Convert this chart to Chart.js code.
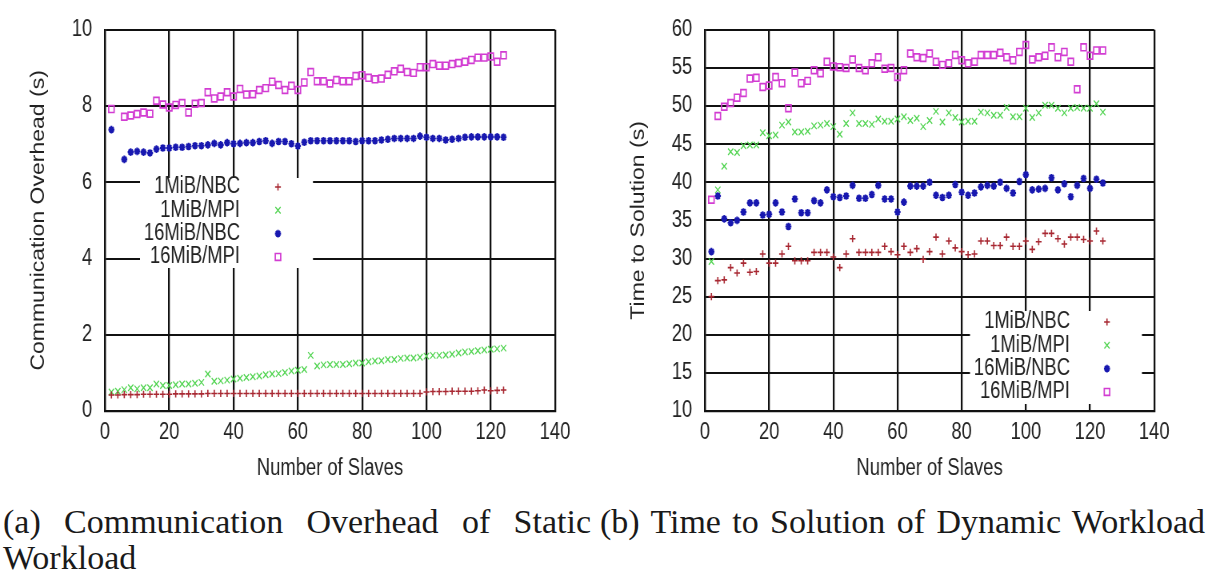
<!DOCTYPE html>
<html>
<head>
<meta charset="utf-8">
<title>Communication overhead / time to solution</title>
<script src="https://cdn.jsdelivr.net/npm/chart.js@4.4.1/dist/chart.umd.min.js"></script>
<style>
  html, body { margin: 0; padding: 0; background: #fff; }
  body { width: 1207px; height: 576px; position: relative; overflow: hidden; }
  /* the original figure is squeezed sideways: draw wide, then squeeze */
  .plot { position: absolute; top: 0; transform-origin: 0 0; transform: scaleX(0.8); }
  #cL { left: 0; }
  #cR { left: 600px; }
  .cap {
    position: absolute;
    font-family: "Liberation Serif", "DejaVu Serif", serif;
    font-size: 34px;
    line-height: 36px;
    color: #1a1a1a;
  }
  #capA1 { left: 3px; top: 504px; width: 588px; text-align: justify; text-align-last: justify; }
  #capA2 { left: 3px; top: 540px; }
  #capB  { left: 600px; top: 504px; width: 605px; text-align: justify; text-align-last: justify; }
</style>
</head>
<body>
<canvas id="cL" class="plot" width="750" height="485"></canvas>
<canvas id="cR" class="plot" width="759" height="485"></canvas>
<div id="capA1" class="cap">(a) Communication Overhead of Static</div>
<div id="capA2" class="cap">Workload</div>
<div id="capB" class="cap">(b) Time to Solution of Dynamic Workload</div>

<script>
// x positions (number of slaves)
const slaves = [2, 4, 6, 8, 10, 12, 14, 16, 18, 20, 22, 24, 26, 28, 30, 32, 34, 36, 38, 40,
  42, 44, 46, 48, 50, 52, 54, 56, 58, 60, 62, 64, 66, 68, 70, 72, 74, 76, 78, 80,
  82, 84, 86, 88, 90, 92, 94, 96, 98, 100, 102, 104, 106, 108, 110, 112, 114, 116, 118, 120,
  122, 124];

const seriesNames = ['1MiB/NBC', '1MiB/MPI', '16MiB/NBC', '16MiB/MPI'];

// (a) communication overhead of static workload, seconds
const ohNbc1 = [0.42, 0.42, 0.43, 0.43, 0.43, 0.44, 0.44, 0.44, 0.44, 0.44, 0.45, 0.45, 0.45, 0.45, 0.45,
  0.46, 0.46, 0.46, 0.46, 0.46, 0.46, 0.46, 0.46, 0.46, 0.46, 0.46, 0.46, 0.46, 0.46, 0.46, 0.46, 0.46,
  0.46, 0.46, 0.46, 0.46, 0.46, 0.46, 0.46, 0.46, 0.46, 0.46, 0.46, 0.46, 0.46, 0.46, 0.46, 0.46, 0.46,
  0.50, 0.51, 0.51, 0.51, 0.52, 0.52, 0.52, 0.52, 0.53, 0.55, 0.53, 0.54, 0.55];
const ohMpi1 = [0.50, 0.52, 0.56, 0.61, 0.58, 0.61, 0.61, 0.71, 0.67, 0.67, 0.69, 0.71, 0.71, 0.73, 0.75,
  0.97, 0.78, 0.79, 0.81, 0.84, 0.86, 0.88, 0.90, 0.92, 0.95, 0.97, 0.98, 1.01, 1.05, 1.07, 1.09, 1.46,
  1.18, 1.21, 1.22, 1.22, 1.22, 1.24, 1.26, 1.26, 1.29, 1.31, 1.32, 1.35, 1.35, 1.38, 1.39, 1.39, 1.41,
  1.44, 1.46, 1.46, 1.47, 1.49, 1.52, 1.55, 1.56, 1.58, 1.60, 1.62, 1.63, 1.65];
const ohNbc16 = [7.38, null, 6.60, 6.79, 6.81, 6.79, 6.77, 6.87, 6.90, 6.90, 6.92, 6.92, 6.94, 6.96, 6.96,
  6.98, 7.02, 6.98, 7.04, 7.01, 7.02, 7.04, 7.04, 7.07, 7.09, 7.02, 7.07, 7.07, 7.01, 6.95, 7.05, 7.09,
  7.09, 7.09, 7.09, 7.09, 7.09, 7.09, 7.07, 7.09, 7.09, 7.09, 7.11, 7.13, 7.15, 7.15, 7.15, 7.15, 7.21,
  7.18, 7.15, 7.15, 7.11, 7.13, 7.15, 7.18, 7.19, 7.19, 7.19, 7.19, 7.19, 7.18];
const ohMpi16 = [7.92, null, 7.72, 7.75, 7.79, 7.83, 7.80, 8.14, 8.04, 7.96, 8.03, 8.08, 7.83, 8.06, 8.08,
  8.36, 8.20, 8.25, 8.36, 8.25, 8.45, 8.30, 8.31, 8.42, 8.47, 8.64, 8.55, 8.42, 8.53, 8.42, 8.62, 8.89,
  8.65, 8.65, 8.59, 8.68, 8.65, 8.65, 8.79, 8.81, 8.74, 8.70, 8.72, 8.82, 8.91, 8.98, 8.89, 8.87, 9.02,
  9.02, 9.10, 9.06, 9.06, 9.10, 9.13, 9.16, 9.21, 9.27, 9.27, 9.30, 9.16, 9.33];

// (b) time to solution of dynamic workload, seconds
const tsNbc1 = [25.0, 27.1, 27.2, 28.8, 28.1, 29.4, 28.2, 28.3, 30.6, 29.4, 29.4, 30.6, 31.6, 29.7, 29.7,
  29.7, 30.8, 30.8, 30.8, 30.2, 28.8, 30.6, 32.6, 30.8, 30.8, 30.8, 30.8, 31.6, 30.9, 30.5, 31.6, 30.8,
  31.3, 29.9, 30.9, 32.8, 30.6, 32.3, 31.4, 30.9, 30.5, 30.6, 32.3, 32.3, 31.7, 31.7, 32.8, 31.6, 31.6,
  32.3, 31.2, 32.2, 33.3, 33.3, 32.6, 31.9, 32.8, 32.8, 32.5, 32.3, 33.6, 32.3];
const tsMpi1 = [29.6, 39.0, 42.1, 44.0, 43.9, 44.8, 44.9, 44.9, 46.5, 46.1, 46.2, 47.5, 47.9, 46.6, 46.6,
  46.7, 47.4, 47.5, 47.7, 47.3, 46.3, 47.7, 49.1, 47.7, 47.7, 47.6, 48.3, 48.0, 48.0, 48.3, 48.6, 48.1,
  48.4, 47.3, 48.1, 49.3, 47.9, 49.1, 48.5, 47.9, 48.0, 48.0, 49.2, 49.1, 48.8, 48.8, 49.8, 48.6, 48.6,
  49.7, 48.5, 49.1, 50.1, 50.1, 49.7, 49.1, 49.7, 49.8, 49.7, 49.7, 50.3, 49.2];
const tsNbc16 = [30.9, 38.2, 35.2, 34.7, 35.0, 36.1, 37.3, 37.3, 35.7, 35.8, 37.3, 36.1, 34.2, 37.8, 36.0,
  36.0, 37.6, 37.3, 39.0, 38.1, 38.0, 38.2, 39.6, 37.9, 37.9, 38.4, 39.6, 37.8, 37.8, 36.1, 37.4, 39.5,
  39.5, 39.5, 40.0, 38.3, 38.0, 38.3, 39.7, 38.7, 38.3, 38.6, 39.4, 39.6, 39.5, 40.0, 39.2, 38.6, 40.1,
  41.0, 39.0, 39.1, 39.2, 40.6, 39.0, 39.8, 38.1, 39.6, 40.5, 39.2, 40.4, 39.9];
const tsMpi16 = [37.7, 48.7, 49.9, 50.4, 51.1, 51.7, 53.6, 53.7, 52.5, 52.7, 53.8, 53.0, 49.7, 54.4, 53.0,
  53.3, 54.7, 54.3, 55.8, 55.2, 55.1, 55.0, 56.1, 55.0, 54.7, 55.6, 56.4, 54.9, 55.0, 53.8, 54.7, 56.9,
  56.4, 56.3, 56.9, 55.8, 55.4, 55.6, 56.7, 56.0, 55.6, 55.8, 56.7, 56.7, 56.7, 57.0, 56.4, 56.0, 57.1,
  58.0, 56.1, 56.4, 56.6, 57.7, 56.4, 57.1, 55.8, 52.2, 57.7, 56.6, 57.3, 57.3];

// tick labels
const xTicks = [0, 20, 40, 60, 80, 100, 120, 140];
const ohTicks = [0, 2, 4, 6, 8, 10];
const tsTicks = [10, 15, 20, 25, 30, 35, 40, 45, 50, 55, 60];

const SQ = 0.8; // sideways squeeze of the canvases (see css)

Chart.defaults.font.family = '"Liberation Sans", Arial, sans-serif';
Chart.defaults.color = '#222';

const styles = [
    { pointStyle: 'cross',    pointRadius: 3.6, borderWidth: 1.6, borderColor: '#a82832', backgroundColor: '#a82832' },
    { pointStyle: 'crossRot', pointRadius: 4.6, borderWidth: 1.3, borderColor: '#52d452', backgroundColor: '#52d452' },
    { pointStyle: 'star',     pointRadius: 3.8, borderWidth: 2.1, borderColor: '#1818b0', backgroundColor: '#1818b0' },
    { pointStyle: 'rect',     pointRadius: 4.8, borderWidth: 1.7, borderColor: '#d23cd2', backgroundColor: 'rgba(0,0,0,0)' }
];

function toPoints(values) {
    const pts = [];
    values.forEach((v, i) => {
        if (v !== null) pts.push({ x: slaves[i], y: v });
    });
    return pts;
}

// gnuplot style key: label right aligned, sample point after it, white box under it
const gnuKey = {
    id: 'gnuKey',
    beforeDatasetsDraw(chart, args, opts) {
        const ctx = chart.ctx;
        ctx.save();
        ctx.fillStyle = '#fff';
        ctx.fillRect(opts.box[0] / SQ, opts.box[1], opts.box[2] / SQ, opts.box[3]);
        ctx.font = '23px "Liberation Sans", Arial, sans-serif';
        ctx.textAlign = 'right';
        ctx.textBaseline = 'middle';
        chart.data.datasets.forEach((ds, i) => {
            const y = opts.top + i * opts.rowH;
            ctx.fillStyle = '#222';
            ctx.fillText(ds.label, opts.textX / SQ, y);
            ctx.fillStyle = ds.backgroundColor;
            ctx.strokeStyle = ds.borderColor;
            ctx.lineWidth = ds.borderWidth;
            Chart.helpers.drawPoint(ctx, {
                pointStyle: ds.pointStyle, radius: ds.pointRadius,
                borderWidth: ds.borderWidth, rotation: 0
            }, opts.symX / SQ, y);
        });
        ctx.restore();
    }
};

function makeChart(id, series, yTicks, yTitle, padRight, key) {
    const datasets = series.map((vals, i) => Object.assign({
        label: seriesNames[i],
        data: toPoints(vals)
    }, styles[i]));

    return new Chart(document.getElementById(id), {
        type: 'scatter',
        data: { datasets: datasets },
        plugins: [gnuKey],
        options: {
            responsive: false,
            animation: false,
            devicePixelRatio: 1,
            layout: { padding: { top: 18, right: padRight / SQ, left: 0, bottom: 0 } },
            plugins: {
                legend: { display: false },
                tooltip: { enabled: false },
                gnuKey: key
            },
            scales: {
                x: {
                    type: 'linear',
                    min: xTicks[0],
                    max: xTicks[xTicks.length - 1],
                    afterBuildTicks: s => { s.ticks = xTicks.map(v => ({ value: v })); },
                    afterFit: s => { s.height = 74; },
                    grid: { color: '#111', lineWidth: 2.3, drawTicks: false },
                    border: { color: '#111', width: 2.3 },
                    ticks: {
                        padding: 8,
                        maxRotation: 0,
                        autoSkip: false,
                        font: { size: 23 },
                        callback: v => String(v)
                    },
                    title: {
                        display: true,
                        text: 'Number of Slaves',
                        font: { size: 23 },
                        padding: { top: 0, bottom: 3 }
                    }
                },
                y: {
                    type: 'linear',
                    min: yTicks[0],
                    max: yTicks[yTicks.length - 1],
                    afterBuildTicks: s => { s.ticks = yTicks.map(v => ({ value: v })); },
                    afterFit: s => { s.width = 105 / SQ; },
                    grid: { color: '#111', lineWidth: 1.9, drawTicks: false },
                    border: { color: '#111', width: 2.3 },
                    ticks: {
                        padding: 16,
                        autoSkip: false,
                        font: { size: 23 },
                        callback: v => String(v)
                    },
                    title: {
                        display: true,
                        text: yTitle,
                        font: { size: 23 },
                        padding: { top: 35, bottom: 0 }
                    }
                }
            }
        }
    });
}

makeChart('cL', [ohNbc1, ohMpi1, ohNbc16, ohMpi16], ohTicks, 'Communication Overhead (s)', 45,
    { box: [140, 178, 173, 90], textX: 240, symX: 278, top: 187, rowH: 23.3 });

makeChart('cR', [tsNbc1, tsMpi1, tsNbc16, tsMpi16], tsTicks, 'Time to Solution (s)', 53,
    { box: [370, 311, 172, 93], textX: 470, symX: 507, top: 322, rowH: 23.3 });
</script>
</body>
</html>
